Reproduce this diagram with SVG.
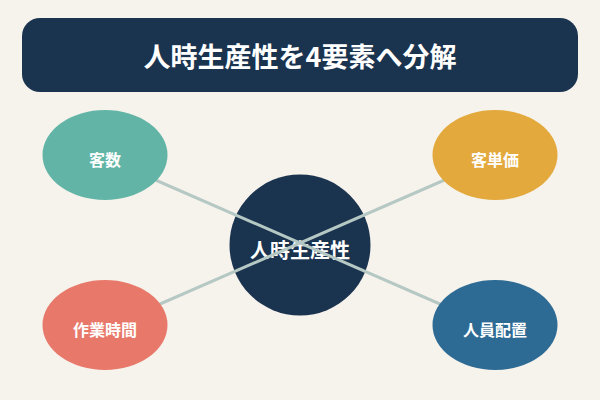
<svg xmlns="http://www.w3.org/2000/svg" width="600" height="400" viewBox="0 0 600 400">
<style>
.t{font-family:"Noto Sans CJK JP","Noto Sans",sans-serif;font-weight:bold;fill:#ffffff;text-anchor:middle}
.conn{stroke:#b5c8c3;stroke-width:3;fill:none}
</style>
<rect width="600" height="400" fill="#f6f2ec"/>
<g id="title">
<rect x="22" y="18" width="556" height="74" rx="18" fill="#1a334f"/>
<text class="t" x="300" y="67" font-size="27">人時生産性を4要素へ分解</text>
</g>
<g id="center">
<circle cx="300" cy="245" r="70.5" fill="#1a334f"/>
<text class="t" x="300" y="258" font-size="20">人時生産性</text>
</g>
<g id="connectors">
<line class="conn" x1="105" y1="158" x2="495" y2="328"/>
<line class="conn" x1="105" y1="328" x2="495" y2="158"/>
</g>
<g id="kyakusu">
<ellipse cx="105" cy="155" rx="62.5" ry="45" fill="#62b5a6"/>
<text class="t" x="105" y="166" font-size="16">客数</text>
</g>
<g id="kyakutanka">
<ellipse cx="495" cy="155" rx="62.5" ry="45" fill="#e3a93c"/>
<text class="t" x="495" y="166" font-size="16">客単価</text>
</g>
<g id="sagyojikan">
<ellipse cx="105" cy="325" rx="62.5" ry="45" fill="#e8796a"/>
<text class="t" x="105" y="336" font-size="16">作業時間</text>
</g>
<g id="jinin">
<ellipse cx="495" cy="325" rx="62.5" ry="45" fill="#2e6b94"/>
<text class="t" x="495" y="336" font-size="16">人員配置</text>
</g>
</svg>
